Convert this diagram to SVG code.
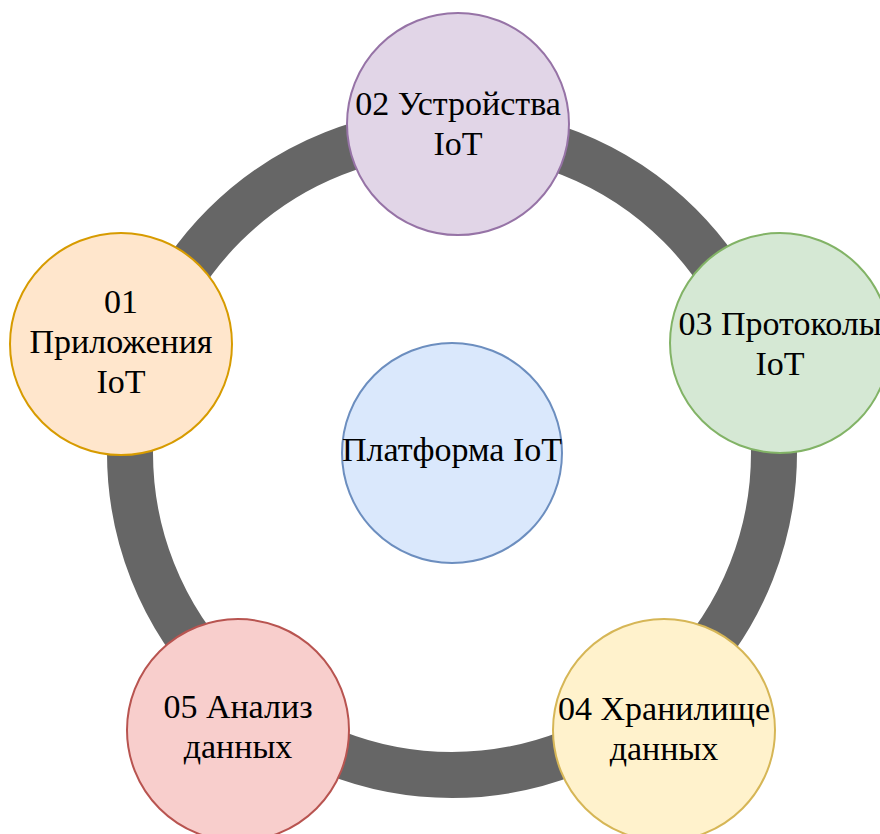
<svg xmlns="http://www.w3.org/2000/svg" width="880" height="834" viewBox="0 0 880 834">
<style>
.t{font-size:34px;fill:#000;text-anchor:middle}
.n{stroke-width:2}
</style>
<rect width="880" height="834" fill="#fff"/>
<g id="connectors">
<circle cx="452" cy="453" r="322" fill="none" stroke="#666666" stroke-width="46"/>
</g>
<g font-family="'Liberation Serif', 'Times New Roman', serif">
<g id="center">
<circle class="n" cx="452" cy="453" r="110" fill="#dae8fc" stroke="#6c8ebf"/>
<text class="t" x="452" y="461">Платформа IoT</text>
</g>
<g id="n01">
<circle class="n" cx="121" cy="344" r="111" fill="#ffe6cc" stroke="#d79b00"/>
<text class="t" x="121" y="313">01</text>
<text class="t" x="121" y="353">Приложения</text>
<text class="t" x="121" y="393">IoT</text>
</g>
<g id="n02">
<circle class="n" cx="458" cy="124" r="111" fill="#e1d5e7" stroke="#9673a6"/>
<text class="t" x="458" y="115">02 Устройства</text>
<text class="t" x="458" y="155">IoT</text>
</g>
<g id="n03">
<circle class="n" cx="780" cy="343" r="110" fill="#d5e8d4" stroke="#82b366"/>
<text class="t" x="780" y="335">03 Протоколы</text>
<text class="t" x="780" y="375">IoT</text>
</g>
<g id="n04">
<circle class="n" cx="664" cy="730" r="111" fill="#fff2cc" stroke="#d6b656"/>
<text class="t" x="664" y="720">04 Хранилище</text>
<text class="t" x="664" y="760">данных</text>
</g>
<g id="n05">
<circle class="n" cx="238" cy="730" r="111" fill="#f8cecc" stroke="#b85450"/>
<text class="t" x="238" y="718">05 Анализ</text>
<text class="t" x="238" y="758">данных</text>
</g>
</g>
</svg>
